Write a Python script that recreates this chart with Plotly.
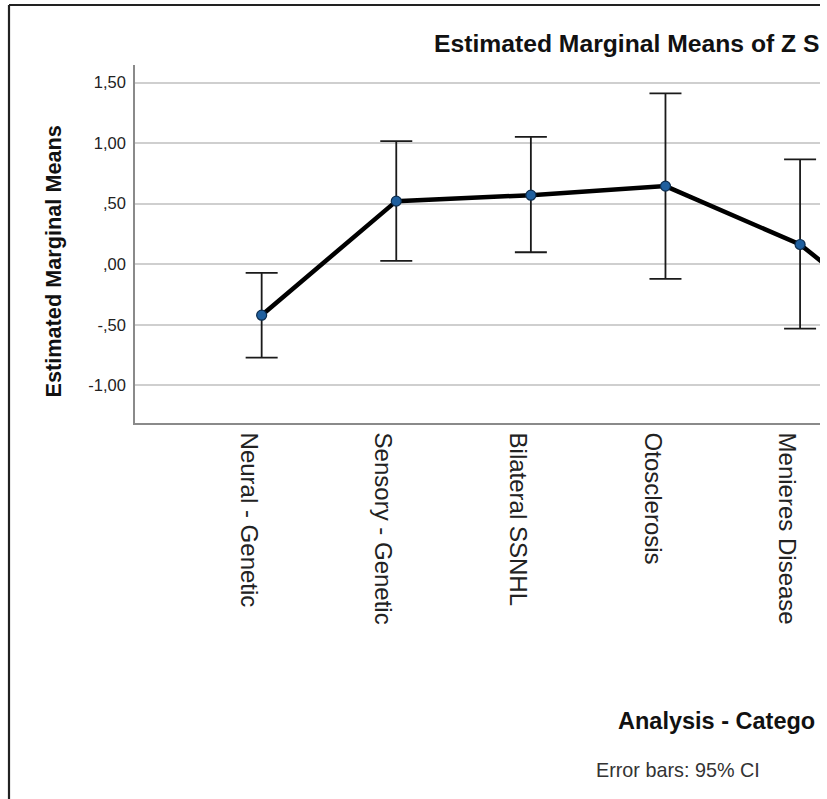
import plotly.graph_objects as go

# Estimated marginal means with 95% CI per diagnosis category
categories = ["Neural - Genetic", "Sensory - Genetic", "Bilateral SSNHL",
              "Otosclerosis", "Menieres Disease", "Other"]
means = [-0.421, 0.521, 0.570, 0.645, 0.163, -0.72]
ci_upper = [-0.072, 1.017, 1.052, 1.411, 0.865, None]
ci_lower = [-0.771, 0.027, 0.099, -0.121, -0.531, None]

y_tickvals = [-1.0, -0.5, 0.0, 0.5, 1.0, 1.5]
y_ticktext = ["-1,00", "-,50", ",00", ",50", "1,00", "1,50"]

err_plus = [None if u is None else u - m for u, m in zip(ci_upper, means)]
err_minus = [None if l is None else m - l for l, m in zip(ci_lower, means)]

W, H = 820, 799
ML, MR, MT, MB = 135, 0, 65, 376
PW, PH = W - ML - MR, H - MT - MB


def px_x(p):
    return (p - ML) / PW


def px_y(p):
    return (H - MB - p) / PH


FONT = "Liberation Sans, Arial, sans-serif"

fig = go.Figure()
fig.add_trace(go.Scatter(
    x=list(range(len(categories))),
    y=means,
    mode="lines+markers",
    line=dict(color="#000000", width=4.5),
    marker=dict(size=10, color="#1f5f9e", line=dict(color="#0b2c4e", width=1.2)),
    error_y=dict(type="data", symmetric=False, array=err_plus, arrayminus=err_minus,
                 color="#1a1a1a", thickness=1.8, width=16),
    showlegend=False,
))

fig.update_layout(
    width=W, height=H, autosize=False,
    margin=dict(l=ML, r=MR, t=MT, b=MB, pad=0),
    paper_bgcolor="white", plot_bgcolor="white",
    font=dict(family=FONT, color="#111111"),
    xaxis=dict(
        range=[-0.941, 4.148],
        tickmode="array",
        tickvals=list(range(len(categories))),
        ticktext=categories,
        tickangle=90,
        tickfont=dict(size=24, color="#222222", family=FONT),
        showgrid=False, zeroline=False,
        showline=True, linecolor="#8a8a8a", linewidth=1.6,
        ticks="", ticklabelstandoff=3, ticklabelshift=-13,
    ),
    yaxis=dict(
        range=[-1.311, 1.645],
        tickmode="array",
        tickvals=y_tickvals,
        ticktext=y_ticktext,
        tickfont=dict(size=16.5, color="#222222", family=FONT),
        showgrid=True, gridcolor="#cfcfcf", gridwidth=1.6,
        zeroline=False,
        showline=True, linecolor="#8a8a8a", linewidth=1.6,
        ticks="", ticklabelstandoff=4,
    ),
    annotations=[
        dict(text="<b>Estimated Marginal Means of Z S</b>", xref="paper", yref="paper",
             x=px_x(432), y=px_y(44), xanchor="left", yanchor="middle",
             showarrow=False, font=dict(size=24.7, color="#111111", family=FONT)),
        dict(text="<b>Estimated Marginal Means</b>", xref="paper", yref="paper",
             x=px_x(53), y=px_y(261.5), xanchor="center", yanchor="middle",
             textangle=-90, showarrow=False,
             font=dict(size=21.7, color="#111111", family=FONT)),
        dict(text="<b>Analysis - Catego</b>", xref="paper", yref="paper",
             x=px_x(616), y=px_y(721), xanchor="left", yanchor="middle",
             showarrow=False, font=dict(size=23.5, color="#111111", family=FONT)),
        dict(text="Error bars: 95% CI", xref="paper", yref="paper",
             x=px_x(594), y=px_y(770), xanchor="left", yanchor="middle",
             showarrow=False, font=dict(size=19.8, color="#333333", family=FONT)),
    ],
    shapes=[
        # outer chart frame (left and top edges)
        dict(type="line", xref="paper", yref="paper",
             x0=px_x(9), x1=px_x(9), y0=px_y(5), y1=px_y(H + 5),
             line=dict(color="#222222", width=2.2)),
        dict(type="line", xref="paper", yref="paper",
             x0=px_x(9), x1=px_x(W + 5), y0=px_y(5), y1=px_y(5),
             line=dict(color="#222222", width=2.2)),
    ],
)

fig.write_html("out.html")
